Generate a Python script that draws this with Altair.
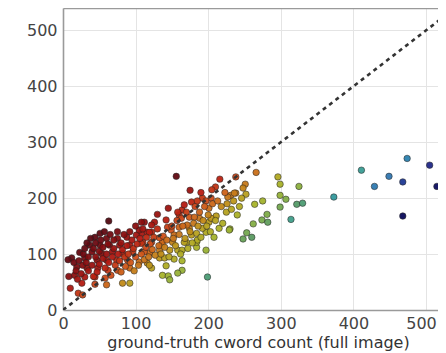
import altair as alt
import pandas as pd

# (ground-truth count, predicted count) pairs, by region
far_right = [(474, 271), (505, 259), (411, 250), (449, 239), (468, 229), (429, 221), (515, 221),
             (373, 202), (468, 168)]
mid_right = [(266, 246), (296, 238), (299, 225), (325, 221), (251, 225), (248, 218), (238, 209),
             (252, 207), (231, 205), (299, 205), (307, 198), (275, 195), (264, 189), (322, 189),
             (330, 191), (299, 184), (281, 171), (274, 161), (282, 157), (314, 162), (262, 154),
             (230, 145), (253, 138), (260, 130), (248, 127)]
lower_mid = [(197, 107), (184, 112), (164, 88), (153, 91), (142, 79), (164, 71), (158, 66), (137, 62),
             (145, 61), (147, 54), (122, 75), (133, 93), (199, 59), (184, 121), (170, 121), (158, 107),
             (147, 107), (136, 116)]
middle = [(156, 239), (216, 234), (238, 238), (175, 214), (236, 209), (227, 202), (204, 200), (177, 193),
          (145, 182), (164, 179), (201, 182), (225, 175), (211, 168), (130, 171), (160, 170), (174, 166),
          (188, 164), (142, 161), (201, 157), (112, 157), (126, 157), (215, 146), (229, 143), (197, 139),
          (174, 146), (160, 148), (149, 143), (122, 139), (108, 137), (177, 134), (185, 125), (167, 121),
          (151, 121), (137, 121), (110, 121), (164, 107), (133, 107), (119, 102), (140, 93), (116, 84),
          (192, 200), (167, 188), (197, 195), (158, 175), (163, 164), (181, 166), (204, 164), (122, 152),
          (144, 148), (171, 152), (192, 146), (184, 137), (153, 134), (116, 139)]
left = [(63, 159), (108, 157), (51, 137), (44, 130), (60, 128), (75, 128), (88, 130), (101, 134),
        (105, 143), (119, 139), (37, 116), (51, 116), (64, 116), (78, 116), (92, 116), (108, 119),
        (122, 121), (133, 129), (23, 103), (40, 104), (53, 101), (68, 104), (82, 101), (96, 104),
        (112, 104), (12, 93), (30, 93), (47, 89), (60, 89), (74, 89), (89, 89), (105, 86), (119, 80),
        (19, 77), (33, 75), (48, 75), (62, 71), (75, 71), (92, 75), (16, 62), (30, 59), (44, 59),
        (58, 57), (44, 46), (60, 45), (82, 48), (92, 48), (10, 39), (21, 30), (27, 27), (26, 48),
        (7, 90), (8, 60)]
dense = [(15, 85), (18, 70), (20, 55), (22, 88), (25, 65), (27, 80), (28, 100), (30, 110), (32, 85),
         (33, 120), (35, 70), (35, 95), (38, 128), (40, 80), (42, 60), (42, 110), (45, 95), (45, 120),
         (47, 68), (50, 105), (50, 82), (52, 125), (55, 92), (55, 112), (57, 140), (58, 75), (60, 100),
         (62, 118), (63, 85), (65, 135), (66, 62), (68, 95), (70, 110), (70, 125), (72, 80), (75, 140),
         (76, 100), (78, 88), (80, 120), (80, 68), (82, 108), (84, 135), (85, 95), (86, 78), (88, 115),
         (90, 100), (92, 140), (93, 85), (95, 125), (97, 110), (98, 70), (100, 95), (100, 150),
         (102, 118), (104, 80), (106, 128), (108, 100), (110, 145), (112, 90), (114, 112), (115, 130),
         (118, 95), (120, 118), (123, 108), (125, 130), (127, 98), (130, 145), (132, 115), (135, 100),
         (138, 132), (140, 112), (143, 125), (146, 95), (150, 150), (152, 128), (155, 115), (157, 160),
         (160, 135), (162, 100), (165, 150), (168, 128), (170, 175), (172, 110), (175, 140), (178, 120),
         (180, 155), (182, 185), (186, 150), (188, 175), (190, 130), (193, 160), (195, 185), (198, 150),
         (200, 170), (203, 140), (206, 190), (208, 130), (210, 160), (213, 195), (218, 185), (220, 155),
         (223, 210), (226, 190), (232, 180), (235, 195), (240, 170), (243, 185), (246, 200), (210, 220),
         (205, 215), (190, 210), (185, 195)]

diag = [0, 560]
ticks = [0, 100, 200, 300, 400, 500]

pairs = far_right + mid_right + lower_mid + middle + left + dense
df = pd.DataFrame(pairs, columns=["gt", "pred"])
df["diff"] = df["gt"] - df["pred"]
line_df = pd.DataFrame({"gt": diag, "pred": diag})

color_domain = [-90, -50, -20, 5, 25, 45, 75, 105, 130, 155, 190, 215, 245, 300]
color_range = ["#5a0a12", "#8a0e0e", "#b81c12", "#d0501a", "#c8781c", "#b8a020", "#a8b42a",
               "#8cb040", "#5a9a62", "#40a090", "#3a90a8", "#3a70b0", "#202a8a", "#0a0a5a"]

xscale = alt.Scale(domain=[0, 516.5], nice=False, zero=False)
yscale = alt.Scale(domain=[0, 540], nice=False, zero=False)

frame = dict(domain=True, domainColor="#9a9a9a", domainWidth=1.6)

xaxis = alt.Axis(values=ticks, title="ground-truth cword count (full image)",
                 grid=True, gridColor="#e4e4e4", tickSize=0, labelFlush=False,
                 labelFontSize=16, labelColor="#444", labelPadding=5,
                 labelOffset={"condition": {"test": "datum.value === 500", "value": -5}, "value": 0},
                 titleFontSize=16, titleFontWeight="normal", titleColor="#333", titlePadding=3,
                 titleX=195, **frame)
yaxis = alt.Axis(values=ticks, title=None,
                 grid=True, gridColor="#e4e4e4", tickSize=0, labelFlush=False,
                 labelFontSize=16, labelColor="#444", labelPadding=6, **frame)
topaxis = alt.Axis(orient="top", labels=False, ticks=False, grid=False, title=None, **frame)

pts = alt.Chart(df).mark_circle(size=42, opacity=0.95, stroke="#222", strokeWidth=0.8,
                                strokeOpacity=0.7, clip=True).encode(
    x=alt.X("gt:Q", scale=xscale, axis=xaxis),
    y=alt.Y("pred:Q", scale=yscale, axis=yaxis),
    color=alt.Color("diff:Q", scale=alt.Scale(domain=color_domain, range=color_range), legend=None),
)

line = alt.Chart(line_df).mark_line(color="#333", strokeWidth=2.6, strokeDash=[4, 4], clip=True).encode(
    x=alt.X("gt:Q", scale=xscale, axis=topaxis),
    y=alt.Y("pred:Q", scale=yscale),
)

chart = alt.layer(pts, line).resolve_axis(x="independent").properties(
    width=375, height=302,
    autosize=alt.AutoSizeParams(type="none"),
    padding={"left": 55, "top": 0, "right": 0, "bottom": 48},
).configure(font="DejaVu Sans").configure_view(stroke=None)

chart.save("out.html", embed_options={"renderer": "svg", "actions": False})
